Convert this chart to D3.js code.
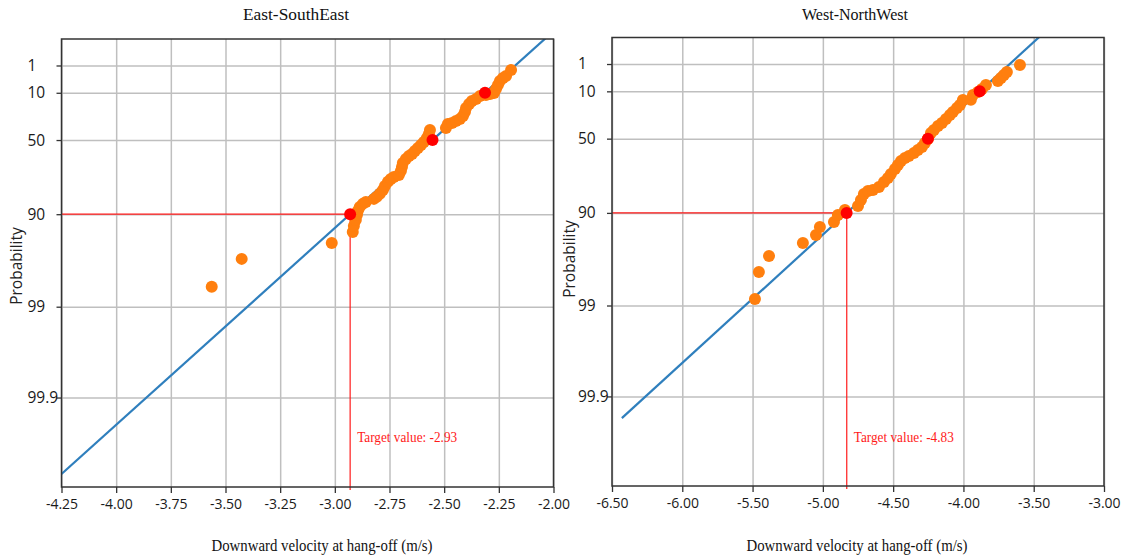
<!DOCTYPE html>
<html lang="en">
<head>
  <meta charset="UTF-8" />
  <title>Downward velocity at hang-off – probability plots</title>
  <script src="https://d3js.org/d3.v7.min.js"></script>
  <style>
    body { margin: 0; background: #fff; }
    .title, .x-label, .target-label { font-family: "Liberation Serif", "Times New Roman", serif; }
    .tick text { font-family: "Open Sans", "DejaVu Sans", sans-serif; fill: #1a1a1a; }
    .y-label { font-family: "Open Sans", "DejaVu Sans", sans-serif; font-size: 15.5px; fill: #222; }
  </style>
</head>
<body>
  <div id="chart"></div>
  <script>
    // panel titles and axis ticks
    const panelTitles = ["East-SouthEast", "West-NorthWest"];
    const probTicks = [1, 10, 50, 90, 99, 99.9];
    const eseTicks = [-4.25, -4.0, -3.75, -3.5, -3.25, -3.0, -2.75, -2.5, -2.25, -2.0];
    const wnwTicks = [-6.5, -6.0, -5.5, -5.0, -4.5, -4.0, -3.5, -3.0];

    // sample points (velocity m/s, probability %)
    const eseVelocity = [-3.563, -3.426, -3.014, -2.918, -2.913, -2.904, -2.899, -2.895, -2.886, -2.872,
      -2.858, -2.821, -2.808, -2.794, -2.780, -2.771, -2.757, -2.744, -2.730, -2.707,
      -2.698, -2.693, -2.689, -2.675, -2.661, -2.647, -2.634, -2.620, -2.606, -2.593,
      -2.579, -2.570, -2.565, -2.492, -2.483, -2.464, -2.446, -2.428, -2.414, -2.405,
      -2.400, -2.386, -2.373, -2.354, -2.336, -2.309, -2.290, -2.272, -2.263, -2.254,
      -2.245, -2.231, -2.217, -2.194];
    const eseProb = [98.35, 96.67, 95.05, 93.5, 92.5, 91.3, 90.2, 89.2, 88.1, 87.2,
      86.6, 85.6, 84.9, 83.8, 82.3, 80.6, 78.7, 77.3, 76.2, 75.2,
      72.9, 70.5, 67.9, 65.2, 63.0, 61.5, 59.2, 56.8, 54.3, 51.7,
      48.2, 44.6, 40.9, 39.0, 35.3, 34.4, 32.5, 30.7, 27.9, 24.4,
      20.9, 17.7, 15.5, 14.0, 12.0, 11.4, 10.8, 10.2, 7.95, 6.07,
      4.50, 3.52, 2.96, 1.66];

    const wnwVelocity = [-5.483, -5.455, -5.383, -5.142, -5.049, -5.021, -4.921, -4.893, -4.843, -4.750,
      -4.729, -4.708, -4.679, -4.644, -4.601, -4.565, -4.537, -4.516, -4.487, -4.466,
      -4.444, -4.416, -4.388, -4.352, -4.324, -4.295, -4.274, -4.253, -4.231, -4.210,
      -4.181, -4.153, -4.124, -4.096, -4.075, -4.046, -4.025, -4.004, -3.947, -3.932,
      -3.897, -3.868, -3.840, -3.755, -3.733, -3.712, -3.691, -3.598];
    const wnwProb = [98.82, 97.67, 96.53, 95.21, 94.16, 92.89, 91.97, 90.47, 89.26, 88.19,
      86.38, 84.32, 83.19, 82.80, 81.57, 79.36, 77.42, 75.33, 72.50, 70.05,
      67.44, 65.36, 63.94, 61.71, 59.41, 57.00, 53.68, 50.23, 44.85, 42.09,
      38.37, 35.57, 31.85, 28.19, 25.50, 22.04, 19.55, 15.68, 15.60, 12.20,
      10.33, 8.63, 6.64, 4.97, 3.92, 3.04, 2.31, 1.11];

    // fitted Gumbel line: velocity = mu - beta * reduced variate
    const fitMu = [-2.48, -4.14];
    const fitBeta = [0.2, 0.307];
    const lineStart = [-4.25, -6.43];
    const targetValues = [-2.93, -4.83];
    const markerProbs = [10, 50, 90];
    const targetProb = 90;

    // reduced variate for the probability axis
    const reduced = p => -Math.log(-Math.log(p / 100));
    const gDomain = [-2.2, 9.18];

    const W = 1126, H = 557;
    const svg = d3.select("#chart").append("svg")
      .attr("width", W).attr("height", H);
    svg.append("rect").attr("width", W).attr("height", H).attr("fill", "#fff");

    const boxes = [
      { x0: 61.5, x1: 553.5, y0: 39, y1: 487, titleX: 296, labelX: 322, yLabelX: 17, yLabelY: 266 },
      { x0: 612, x1: 1104, y0: 37.5, y1: 486, titleX: 855, labelX: 857, yLabelX: 570, yLabelY: 259 }
    ];

    const panels = [
      { title: panelTitles[0], vel: eseVelocity, prob: eseProb, ticks: eseTicks },
      { title: panelTitles[1], vel: wnwVelocity, prob: wnwProb, ticks: wnwTicks }
    ];

    panels.forEach((p, i) => {
      const b = boxes[i];
      const x = d3.scaleLinear().domain(d3.extent(p.ticks)).range([b.x0, b.x1]);
      const y = d3.scaleLinear().domain(gDomain).range([b.y0, b.y1]);
      const g = svg.append("g");

      // grid
      g.append("g")
        .attr("transform", `translate(0,${b.y1})`)
        .call(d3.axisBottom(x).tickValues(p.ticks).tickSize(-(b.y1 - b.y0)).tickFormat(""))
        .call(a => a.select(".domain").remove())
        .call(a => a.selectAll("line").attr("stroke", "#bfbfbf").attr("stroke-width", 1.5));
      g.append("g")
        .attr("transform", `translate(${b.x0},0)`)
        .call(d3.axisLeft(y).tickValues(probTicks.map(reduced)).tickSize(-(b.x1 - b.x0)).tickFormat(""))
        .call(a => a.select(".domain").remove())
        .call(a => a.selectAll("line").attr("stroke", "#bfbfbf").attr("stroke-width", 1.5));

      // clip
      const clipId = "clip" + i;
      svg.append("clipPath").attr("id", clipId)
        .append("rect").attr("x", b.x0).attr("y", b.y0)
        .attr("width", b.x1 - b.x0).attr("height", b.y1 - b.y0);

      // target guide lines
      const tx = x(targetValues[i]), ty = y(reduced(targetProb));
      g.append("line").attr("x1", b.x0).attr("x2", tx).attr("y1", ty).attr("y2", ty)
        .attr("stroke", "#ff1a1a").attr("stroke-width", 1.2);
      g.append("line").attr("x1", tx).attr("x2", tx).attr("y1", ty).attr("y2", b.y1 + 3)
        .attr("stroke", "#ff1a1a").attr("stroke-width", 1.2);

      // fitted line
      const mu = fitMu[i], beta = fitBeta[i];
      const gStart = (mu - lineStart[i]) / beta;
      const gEnd = gDomain[0] - 0.2;
      g.append("line")
        .attr("clip-path", `url(#${clipId})`)
        .attr("x1", x(mu - beta * gStart)).attr("y1", y(gStart))
        .attr("x2", x(mu - beta * gEnd)).attr("y2", y(gEnd))
        .attr("stroke", "#2f7fbd").attr("stroke-width", 2.2);

      // data points
      g.append("g").selectAll("circle")
        .data(p.vel.map((v, k) => ({ v, pr: p.prob[k] })))
        .join("circle")
        .attr("cx", d => x(d.v)).attr("cy", d => y(reduced(d.pr)))
        .attr("r", 6).attr("fill", "#ff7f0e");

      // fitted quantile markers
      g.append("g").selectAll("circle")
        .data(markerProbs)
        .join("circle")
        .attr("cx", d => x(mu - beta * reduced(d))).attr("cy", d => y(reduced(d)))
        .attr("r", 6).attr("fill", "#ff0000");

      // x axis
      g.append("g")
        .attr("transform", `translate(0,${b.y1})`)
        .call(d3.axisBottom(x).tickValues(p.ticks).tickSize(6).tickPadding(6).tickFormat(d => d.toFixed(2)))
        .call(a => a.select(".domain").remove())
        .call(a => a.selectAll("line").attr("stroke", "#333").attr("stroke-width", 1.3))
        .call(a => a.selectAll("text").attr("font-size", "14px"));

      // y axis
      g.append("g")
        .attr("transform", `translate(${b.x0},0)`)
        .call(d3.axisLeft(y).tickValues(probTicks.map(reduced)).tickSize(5)
          .tickFormat((d, k) => String(probTicks[k])))
        .call(a => a.select(".domain").remove())
        .call(a => a.selectAll("line").attr("stroke", "#333").attr("stroke-width", 1.3))
        .call(a => a.selectAll("text").attr("x", -34).attr("text-anchor", "start")
          .attr("font-size", "15.5px"));

      // frame
      g.append("rect")
        .attr("x", b.x0).attr("y", b.y0)
        .attr("width", b.x1 - b.x0).attr("height", b.y1 - b.y0)
        .attr("fill", "none").attr("stroke", "#333").attr("stroke-width", 1.5);

      // texts
      svg.append("text").attr("class", "title")
        .attr("x", b.titleX).attr("y", 20).attr("text-anchor", "middle")
        .attr("font-size", "16px").attr("fill", "#111")
        .attr("textLength", 106).attr("lengthAdjust", "spacingAndGlyphs")
        .text(p.title);
      svg.append("text").attr("class", "x-label")
        .attr("x", b.labelX).attr("y", 551).attr("text-anchor", "middle")
        .attr("font-size", "16px").attr("fill", "#111")
        .attr("textLength", 221).attr("lengthAdjust", "spacingAndGlyphs")
        .text("Downward velocity at hang-off (m/s)");
      svg.append("text").attr("class", "y-label")
        .attr("transform", `translate(${b.yLabelX + 5},${b.yLabelY}) rotate(-90)`)
        .attr("text-anchor", "middle").text("Probability");
      svg.append("text").attr("class", "target-label")
        .attr("x", tx + 7).attr("y", 442)
        .attr("font-size", "15px").attr("fill", "#ff1a1a")
        .attr("textLength", 100).attr("lengthAdjust", "spacingAndGlyphs")
        .text("Target value: " + targetValues[i].toFixed(2));
    });
  </script>
</body>
</html>
